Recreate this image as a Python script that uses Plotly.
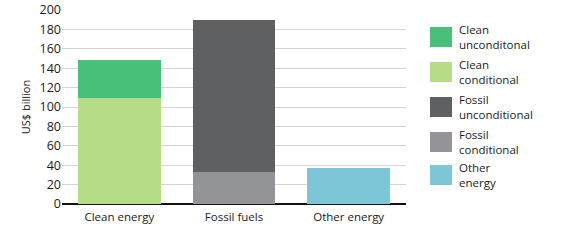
import plotly.graph_objects as go

categories = ["Clean energy", "Fossil fuels", "Other energy"]
series_names = ["Clean unconditonal", "Clean conditional", "Fossil unconditional", "Fossil conditional", "Other energy"]
legend_labels = ["Clean<br>unconditonal", "Clean<br>conditional", "Fossil<br>unconditional", "Fossil<br>conditional", "Other<br>energy"]
clean_conditional = [109, 0, 0]
clean_unconditional = [39, 0, 0]
fossil_conditional = [0, 33, 0]
fossil_unconditional = [0, 157, 0]
other_energy = [0, 0, 37]
y_ticks = [0, 20, 40, 60, 80, 100, 120, 140, 160, 180, 200]

colors = {
    "Clean unconditonal": "#48C07A",
    "Clean conditional": "#B5DD88",
    "Fossil unconditional": "#5F6062",
    "Fossil conditional": "#939497",
    "Other energy": "#7CC6D7",
}

fig = go.Figure()
stack = [
    ("Clean conditional", clean_conditional),
    ("Clean unconditonal", clean_unconditional),
    ("Fossil conditional", fossil_conditional),
    ("Fossil unconditional", fossil_unconditional),
    ("Other energy", other_energy),
]
for name, vals in stack:
    fig.add_trace(go.Bar(x=categories, y=vals, name=name, marker_color=colors[name],
                         marker_line_width=0, showlegend=False))

font_family = "'Open Sans', sans-serif"
fig.update_layout(
    barmode="stack",
    bargap=0.28,
    width=564, height=247,
    margin=dict(l=62, r=158, t=10, b=43),
    paper_bgcolor="white", plot_bgcolor="white",
    font=dict(family=font_family, size=12, color="#1a1a1a"),
    xaxis=dict(showgrid=False, showline=False, ticks="", tickfont=dict(size=11.5, color="#1a1a1a"),
               range=[-0.5, 2.5], automargin=False, ticklabelstandoff=4),
    yaxis=dict(range=[0, 200], tickvals=y_ticks, showgrid=True, gridcolor="#D3D3D3", gridwidth=1,
               zeroline=True, zerolinecolor="#111", zerolinewidth=2, showline=False,
               ticks="", tickfont=dict(size=12.5, color="#1a1a1a"), automargin=False,
               title=dict(text="US$ billion", font=dict(size=11, color="#1a1a1a"), standoff=6)),
)

# manual legend
x0, x1 = 430, 452
tops = [27, 62, 97, 132, 165]
W, H = 564, 247
for i, name in enumerate(series_names):
    yt = tops[i]
    fig.add_shape(type="rect", xref="paper", yref="paper",
                  x0=(x0 - 62) / (W - 62 - 158), x1=(x1 - 62) / (W - 62 - 158),
                  y0=(H - 43 - (yt + 20)) / (H - 10 - 43), y1=(H - 43 - yt) / (H - 10 - 43),
                  fillcolor=colors[name], line_width=0)
    fig.add_annotation(xref="paper", yref="paper", x=(457 - 62) / (W - 62 - 158),
                       y=(H - 43 - (yt + 10)) / (H - 10 - 43), xanchor="left", yanchor="middle",
                       text=legend_labels[i], showarrow=False, align="left",
                       font=dict(size=11.5, color="#1a1a1a"))

fig.write_html("out.html")
